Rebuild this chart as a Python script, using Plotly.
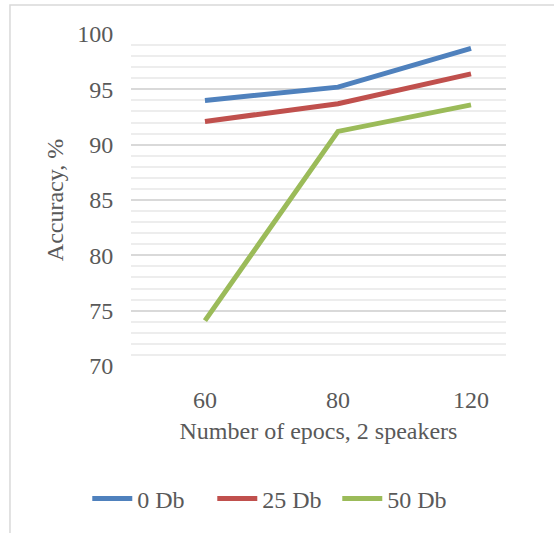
import plotly.graph_objects as go

epochs = ["60", "80", "120"]
db0 = [94.0, 95.2, 98.7]
db25 = [92.1, 93.7, 96.4]
db50 = [74.1, 91.2, 93.6]

series_names = ["0 Db", "25 Db", "50 Db"]
series_colors = ["#4F81BD", "#C0504D", "#9BBB59"]

text_color = "#595959"
font_family = "Liberation Serif, Times New Roman, serif"

fig = go.Figure()
for name, vals, color in zip(series_names, [db0, db25, db50], series_colors):
    fig.add_trace(go.Scatter(
        x=list(range(len(epochs))),
        y=vals,
        mode="lines",
        name=name,
        line=dict(color=color, width=5),
        hovertemplate="%{y}<extra>" + name + "</extra>",
    ))

fig.update_layout(
    width=554,
    height=533,
    margin=dict(l=131, r=48, t=34, b=167),
    plot_bgcolor="white",
    paper_bgcolor="white",
    font=dict(family=font_family, color=text_color, size=24),
    showlegend=True,
    legend=dict(
        orientation="h",
        xref="container", yref="container",
        x=0.496, xanchor="center",
        y=0.064, yanchor="middle",
        font=dict(size=24, color=text_color),
        entrywidth=70,
        itemwidth=40,
    ),
    xaxis=dict(
        range=[-0.556, 2.263],
        tickvals=list(range(len(epochs))),
        ticktext=epochs,
        showgrid=False,
        zeroline=False,
        showline=False,
        ticks="outside",
        ticklen=12,
        tickcolor="rgba(0,0,0,0)",
        tickfont=dict(size=24),
        title=dict(text="Number of epocs, 2 speakers", font=dict(size=24), standoff=10),
        fixedrange=True,
    ),
    yaxis=dict(
        range=[70, 100],
        tickvals=[70, 75, 80, 85, 90, 95, 100],
        showgrid=True,
        gridcolor="#d9d9d9",
        gridwidth=1.5,
        zeroline=False,
        showline=False,
        ticks="outside",
        ticklen=12,
        tickcolor="rgba(0,0,0,0)",
        tickfont=dict(size=24),
        minor=dict(dtick=1, showgrid=True, gridcolor="#ededed", gridwidth=1.5),
        title=dict(text="Accuracy, %", font=dict(size=24), standoff=6),
        fixedrange=True,
    ),
    shapes=[dict(
        type="rect", xref="paper", yref="paper",
        x0=-0.3227, x1=2, y0=-1, y1=1.0873,
        line=dict(color="#d9d9d9", width=1.5),
        layer="below",
    )],
)

fig.write_html("out.html", config={"displayModeBar": False},
               post_script="document.body.style.margin='0';")
